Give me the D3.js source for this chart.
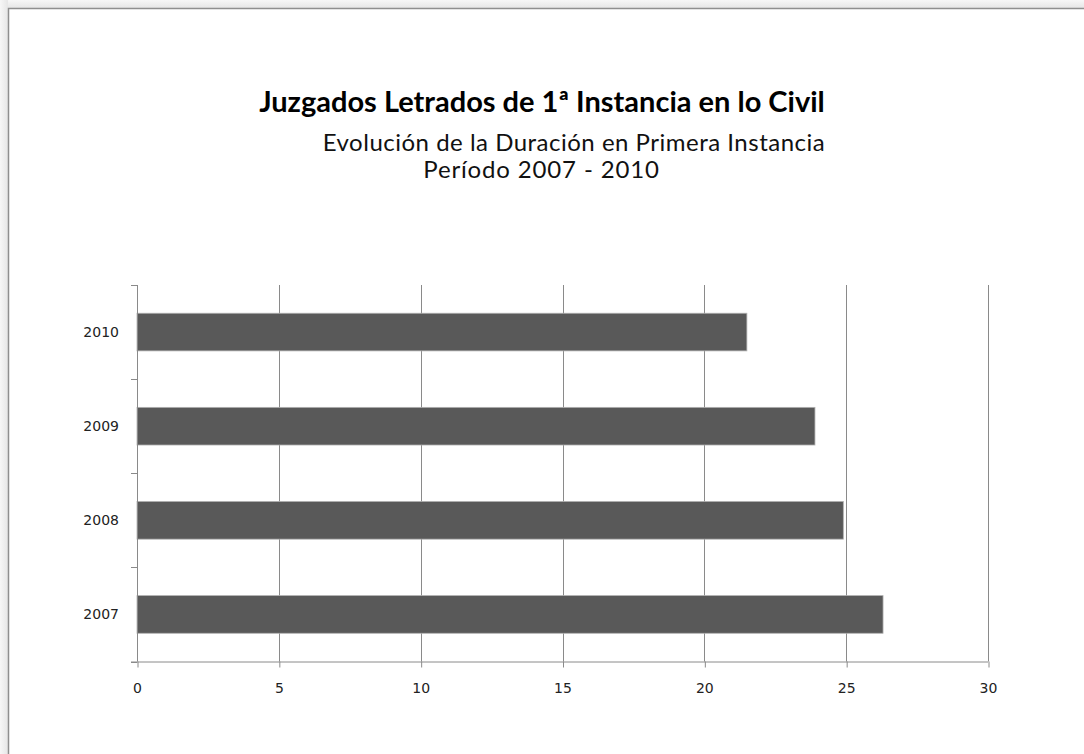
<!DOCTYPE html>
<html>
<head>
<meta charset="utf-8">
<script src="https://cdn.jsdelivr.net/npm/d3@7"></script>
<style>
  html, body { margin: 0; padding: 0; background: #ffffff; }
  svg { display: block; }
</style>
</head>
<body>
<svg id="chart" width="1084" height="754"></svg>
<script>
// ---- data ----
const categories = ["2007", "2008", "2009", "2010"];
const values = [26.3, 24.9, 23.9, 21.5];
const xTicks = [0, 5, 10, 15, 20, 25, 30];
const titleLines = ["Juzgados Letrados de 1ª Instancia en lo Civil"];
const subtitleLines = ["Evolución de la Duración en Primera Instancia", "Período 2007 - 2010"];

const data = categories.map((c, i) => ({ cat: c, value: values[i] }));

const svg = d3.select("#chart");
const W = 1084, H = 754;

// outer background and frame
const defs = svg.append("defs");
const g1 = defs.append("linearGradient").attr("id", "topGrad").attr("x1", 0).attr("y1", 0).attr("x2", 0).attr("y2", 1);
g1.append("stop").attr("offset", "0%").attr("stop-color", "#f7f7f7");
g1.append("stop").attr("offset", "100%").attr("stop-color", "#e6e6e6");
const g2 = defs.append("linearGradient").attr("id", "leftGrad").attr("x1", 0).attr("y1", 0).attr("x2", 1).attr("y2", 0);
g2.append("stop").attr("offset", "0%").attr("stop-color", "#f7f7f7");
g2.append("stop").attr("offset", "100%").attr("stop-color", "#e6e6e6");

svg.append("rect").attr("x", 0).attr("y", 0).attr("width", W).attr("height", H).attr("fill", "#f2f2f2");
svg.append("rect").attr("x", 0).attr("y", 0).attr("width", W).attr("height", 8).attr("fill", "url(#topGrad)");
svg.append("rect").attr("x", 0).attr("y", 0).attr("width", 8).attr("height", H).attr("fill", "url(#leftGrad)");
svg.append("rect").attr("x", 8.5).attr("y", 8.5).attr("width", W + 20).attr("height", H + 20)
  .attr("fill", "#ffffff").attr("stroke", "#8f8f8f").attr("stroke-width", 1.5);

// scales
const x = d3.scaleLinear().domain([0, 30]).range([137, 988]);
const y = d3.scaleBand().domain(categories.slice().reverse()).range([285, 661.5])
  .paddingInner(0.6).paddingOuter(0.3);

const gridColor = "#8a8a8a";

// vertical gridlines
svg.append("g").selectAll("line").data(xTicks.filter(t => t > 0)).join("line")
  .attr("x1", d => Math.round(x(d)) + 0.5).attr("x2", d => Math.round(x(d)) + 0.5)
  .attr("y1", y.range()[0]).attr("y2", y.range()[1])
  .attr("stroke", gridColor).attr("stroke-width", 1);

// bars
svg.append("g").selectAll("rect").data(data).join("rect")
  .attr("x", x(0))
  .attr("y", d => y(d.cat))
  .attr("width", d => x(d.value) - x(0))
  .attr("height", y.bandwidth())
  .attr("fill", "#595959")
  .attr("stroke", "#b0b0b0")
  .attr("stroke-width", 0.8);

const tickFont = "'DejaVu Sans', Verdana, sans-serif";

// x axis
const xAxis = d3.axisBottom(x).tickValues(xTicks).tickSize(6).tickPadding(16);
const xg = svg.append("g").attr("transform", `translate(0,${y.range()[1]})`).call(xAxis);
xg.select(".domain").remove();
xg.append("line").attr("x1", x(0) - 6).attr("x2", x(30)).attr("y1", 0.5).attr("y2", 0.5)
  .attr("stroke", gridColor).attr("stroke-width", 1);
xg.selectAll(".tick line").attr("stroke", gridColor).attr("transform", "translate(0.5,0)");
xg.selectAll(".tick text").attr("fill", "#222").style("font-family", tickFont).style("font-size", "14px");

// y axis
const yAxis = d3.axisLeft(y).tickSize(0).tickPadding(18);
const yg = svg.append("g").attr("transform", `translate(${x(0)},0)`).call(yAxis);
yg.select(".domain").remove();
yg.append("line").attr("x1", 0.5).attr("x2", 0.5).attr("y1", y.range()[0]).attr("y2", y.range()[1])
  .attr("stroke", gridColor).attr("stroke-width", 1);
const boundaries = d3.range(categories.length + 1).map(i => y.range()[0] + i * (y.range()[1] - y.range()[0]) / categories.length);
yg.selectAll(".bound").data(boundaries).join("line").attr("class", "bound")
  .attr("x1", -6).attr("x2", 0).attr("y1", d => Math.round(d) + 0.5).attr("y2", d => Math.round(d) + 0.5)
  .attr("stroke", gridColor).attr("stroke-width", 1);
yg.selectAll(".tick text").attr("fill", "#222").style("font-family", tickFont).style("font-size", "14px");

// titles
const lineCenters = [574, 541.5];
const lineSpacing = ["0.5px", "0.85px"];
svg.append("text").attr("x", 542).attr("y", 112).attr("text-anchor", "middle")
  .style("font-family", "Lato, 'Open Sans', sans-serif").style("font-weight", "bold").style("font-size", "29px")
  .attr("fill", "#000").text(titleLines[0]);
svg.selectAll(".sub").data(subtitleLines).join("text").attr("class", "sub")
  .attr("x", (d, i) => lineCenters[i]).attr("y", (d, i) => 151 + i * 27).attr("text-anchor", "middle")
  .style("font-family", "Lato, 'Open Sans', sans-serif").style("font-size", "24px")
  .style("letter-spacing", (d, i) => lineSpacing[i])
  .attr("fill", "#111").text(d => d);
</script>
</body>
</html>
